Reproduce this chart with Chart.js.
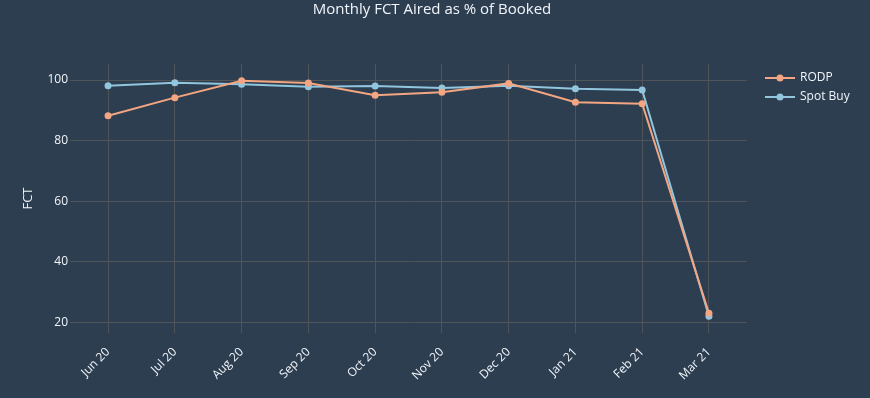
<!DOCTYPE html>
<html>
<head>
<meta charset="utf-8">
<script src="https://cdn.jsdelivr.net/npm/chart.js@4/dist/chart.umd.min.js"></script>
<style>
  html, body { margin: 0; padding: 0; background: #2c3e50; }
  #wrap { width: 870px; height: 398px; }
</style>
</head>
<body>
<div id="wrap"><canvas id="fct"></canvas></div>
<script>
// data
const months = ['Jun 20', 'Jul 20', 'Aug 20', 'Sep 20', 'Oct 20', 'Nov 20', 'Dec 20', 'Jan 21', 'Feb 21', 'Mar 21'];
const rodp = [88.2, 94.2, 99.8, 99.0, 95.0, 96.0, 98.9, 92.7, 92.2, 23.0];
const spotBuy = [98.1, 99.1, 98.6, 97.8, 98.0, 97.4, 98.1, 97.1, 96.7, 22.0];
const yTicks = [20, 40, 60, 80, 100];

const FONT = '"Open Sans", verdana, arial, sans-serif';
const TXT = '#f2f5fa';
const GRID = '#4f5459';

const toPts = arr => arr.map((v, i) => ({ x: i, y: v }));

// title + plotly-like legend, drawn by hand
const decor = {
  id: 'decor',
  afterDraw(chart) {
    const ctx = chart.ctx;
    ctx.save();
    ctx.fillStyle = TXT;
    ctx.font = '15px ' + FONT;
    ctx.textAlign = 'center';
    ctx.textBaseline = 'middle';
    ctx.fillText('Monthly FCT Aired as % of Booked', 432, 10);

    ctx.font = '12px ' + FONT;
    ctx.textAlign = 'left';
    chart.data.datasets.forEach((ds, i) => {
      const y = 78 + i * 19;
      ctx.strokeStyle = ds.borderColor;
      ctx.lineWidth = 2;
      ctx.beginPath(); ctx.moveTo(765, y); ctx.lineTo(795, y); ctx.stroke();
      ctx.fillStyle = ds.borderColor;
      ctx.beginPath(); ctx.arc(780, y, 3.5, 0, Math.PI * 2); ctx.fill();
      ctx.fillStyle = TXT;
      ctx.fillText(ds.label, 800, y);
    });
    ctx.restore();
  }
};

new Chart(document.getElementById('fct'), {
  type: 'line',
  data: {
    datasets: [
      { label: 'RODP', data: toPts(rodp), borderColor: '#f4a582', backgroundColor: '#f4a582' },
      { label: 'Spot Buy', data: toPts(spotBuy), borderColor: '#92c5de', backgroundColor: '#92c5de' },
    ],
  },
  options: {
    responsive: true,
    maintainAspectRatio: false,
    animation: false,
    layout: { padding: { top: 64, right: 123, left: 0, bottom: 0 } },
    elements: {
      line: { borderWidth: 2, tension: 0 },
      point: { radius: 3.5, borderWidth: 0, hoverRadius: 4 },
    },
    plugins: { legend: { display: false }, title: { display: false }, tooltip: { enabled: false } },
    scales: {
      x: {
        type: 'linear',
        min: -0.57,
        max: 9.57,
        afterBuildTicks: s => { s.ticks = months.map((m, i) => ({ value: i })); },
        afterFit: s => { s.height = 65; },
        grid: { color: GRID, lineWidth: 1, drawTicks: false },
        border: { display: false },
        ticks: {
          color: TXT,
          font: { family: FONT, size: 12 },
          maxRotation: 45, minRotation: 45,
          padding: 12,
          callback: v => months[v],
        },
      },
      y: {
        min: 16.5,
        max: 105.3,
        afterBuildTicks: s => { s.ticks = yTicks.map(v => ({ value: v })); },
        afterFit: s => { s.width = 70; },
        grid: { color: GRID, lineWidth: 1, drawTicks: false },
        border: { display: false },
        title: { display: true, text: 'FCT', color: TXT, font: { family: FONT, size: 13 }, padding: { top: 20, bottom: 0 } },
        ticks: { color: TXT, font: { family: FONT, size: 12 }, padding: 2 },
      },
    },
  },
  plugins: [decor],
});
</script>
</body>
</html>
